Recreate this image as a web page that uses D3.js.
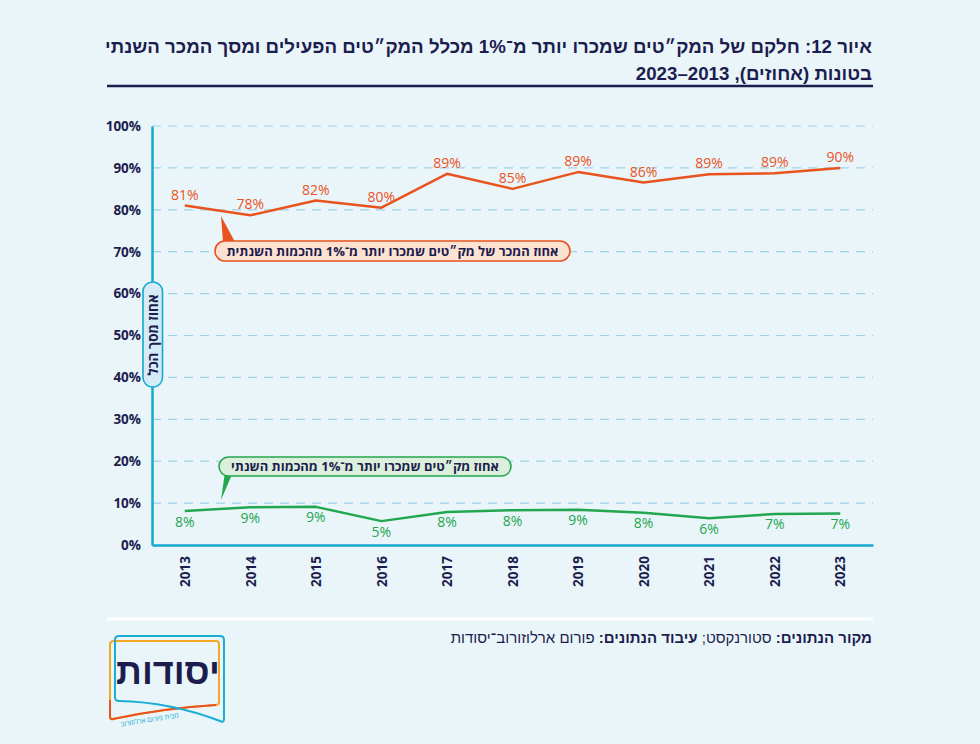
<!DOCTYPE html>
<html lang="he">
<head>
<meta charset="utf-8">
<script src="https://cdn.jsdelivr.net/npm/d3@7"></script>
<style>
html,body{margin:0;padding:0;background:#eaf5fa;}
svg{display:block;}
text{font-family:"Open Sans","Liberation Sans","DejaVu Sans",sans-serif;}
</style>
</head>
<body>
<svg id="chart" width="980" height="744"></svg>
<script>
// ---- data ----
const years = [2013, 2014, 2015, 2016, 2017, 2018, 2019, 2020, 2021, 2022, 2023];
const salesShare = [81.0, 78.7, 82.2, 80.5, 88.6, 85.0, 89.0, 86.5, 88.5, 88.7, 90.0];
const salesLabels = ["81%", "78%", "82%", "80%", "89%", "85%", "89%", "86%", "89%", "89%", "90%"];
const skuShare = [8.1, 9.0, 9.1, 5.7, 7.9, 8.3, 8.4, 7.7, 6.4, 7.4, 7.5];
const skuLabels = ["8%", "9%", "9%", "5%", "8%", "8%", "9%", "8%", "6%", "7%", "7%"];
const yTicks = [0, 10, 20, 30, 40, 50, 60, 70, 80, 90, 100];
const titleLines = [
  "איור 12: חלקם של המק״טים שמכרו יותר מ־1% מכלל המק״טים הפעילים ומסך המכר השנתי",
  "בטונות (אחוזים), 2013–2023"
];
const yAxisTitle = "אחוז מסך הכל";
const salesCallout = "אחוז המכר של מק״טים שמכרו יותר מ־1% מהכמות השנתית";
const skuCallout = "אחוז מק״טים שמכרו יותר מ־1% מהכמות השנתי";

const NAVY = "#1c1d4e", ORANGE = "#e8531e", GREEN = "#22a64e", AXIS = "#14a9cf", GRID = "#9fd2e6";

const svg = d3.select("#chart");
svg.append("rect").attr("width", 980).attr("height", 744).attr("fill", "#eaf5fa");

// ---- title ----
const title = svg.append("g");
titleLines.forEach((t, i) => {
  title.append("text")
    .attr("x", 872).attr("y", 53 + i * 27)
    .attr("direction", "rtl").attr("text-anchor", "start")
    .attr("font-size", 18.7).attr("font-weight", 700).attr("fill", NAVY)
    .style("font-family", "'Liberation Sans Narrow','Liberation Sans','Open Sans',sans-serif")
    .text(t);
});
svg.append("line").attr("x1", 107).attr("x2", 873).attr("y1", 86).attr("y2", 86)
  .attr("stroke", NAVY).attr("stroke-width", 2.5);

// ---- scales ----
const x = d3.scalePoint().domain(years).range([152, 873]).padding(0.5);
const y = d3.scaleLinear().domain([0, 100]).range([545, 126]);

// gridlines
svg.append("g").selectAll("line").data(yTicks.filter(d => d > 0)).join("line")
  .attr("x1", 152).attr("x2", 873)
  .attr("y1", d => y(d)).attr("y2", d => y(d))
  .attr("stroke", GRID).attr("stroke-width", 1.2).attr("stroke-dasharray", "9,7");

// y axis
const yAxis = svg.append("g").attr("transform", "translate(152,0)")
  .call(d3.axisLeft(y).tickValues(yTicks).tickFormat(d => d + "%").tickSize(0).tickPadding(11));
yAxis.select(".domain").attr("stroke", AXIS).attr("stroke-width", 2.5);
yAxis.selectAll("text").attr("font-size", 13.5).attr("font-weight", 700).attr("fill", NAVY)
  .style("font-family", "'Open Sans',sans-serif");

// x axis
const xAxis = svg.append("g").attr("transform", "translate(0,545)")
  .call(d3.axisBottom(x).tickSize(0).tickPadding(0).tickSizeOuter(0));
xAxis.select(".domain").attr("stroke", AXIS).attr("stroke-width", 2.5);
xAxis.selectAll("text")
  .attr("font-size", 13.5).attr("font-weight", 700).attr("fill", NAVY)
  .attr("text-anchor", "end").attr("dy", "0.35em")
  .attr("transform", "translate(0,11) rotate(-90)")
  .attr("x", 0).attr("y", 0)
  .style("font-family", "'Open Sans',sans-serif");

// ---- lines ----
const line = d3.line().x((d, i) => x(years[i])).y(d => y(d));
svg.append("path").datum(salesShare).attr("d", line)
  .attr("fill", "none").attr("stroke", ORANGE).attr("stroke-width", 2.5).attr("stroke-linejoin", "round");
svg.append("path").datum(skuShare).attr("d", line)
  .attr("fill", "none").attr("stroke", GREEN).attr("stroke-width", 2.5).attr("stroke-linejoin", "round");

// data labels
svg.append("g").selectAll("text").data(salesShare).join("text")
  .attr("x", (d, i) => x(years[i])).attr("y", d => y(d) - 6)
  .attr("text-anchor", "middle").attr("font-size", 14).attr("fill", ORANGE)
  .text((d, i) => salesLabels[i]);
svg.append("g").selectAll("text").data(skuShare).join("text")
  .attr("x", (d, i) => x(years[i])).attr("y", d => y(d) + 15.5)
  .attr("text-anchor", "middle").attr("font-size", 14).attr("fill", GREEN)
  .text((d, i) => skuLabels[i]);

// ---- callouts ----
function callout(box, tip, fill, stroke, text) {
  const g = svg.append("g");
  g.append("path")
    .attr("d", `M${box.x + 8},${box.y + 1} L${tip[0]},${tip[1]} L${box.x + 20},${box.y + 1} Z`)
    .attr("fill", stroke);
  g.append("rect").attr("x", box.x).attr("y", box.y).attr("width", box.w).attr("height", box.h)
    .attr("rx", box.h / 2).attr("fill", fill).attr("stroke", stroke).attr("stroke-width", 1.6);
  g.append("text").attr("x", box.x + box.w / 2).attr("y", box.y + box.h / 2 + 4.5)
    .attr("text-anchor", "middle").attr("direction", "rtl")
    .attr("font-size", 13).attr("font-weight", 700).attr("fill", NAVY)
    .text(text);
}
callout({x: 215, y: 241, w: 355, h: 20}, [221, 216], "#fde2d2", ORANGE, salesCallout);
callout({x: 219, y: 457, w: 292, h: 19}, [221, 500], "#dcefdc", GREEN, skuCallout);

// y-axis title box
const yt = svg.append("g");
yt.append("rect").attr("x", 143).attr("y", 282).attr("width", 19.5).attr("height", 105)
  .attr("rx", 9.5).attr("fill", "#d5ebf5").attr("stroke", AXIS).attr("stroke-width", 1.6);
yt.append("text").attr("transform", "translate(157.5,335) rotate(-90)")
  .attr("text-anchor", "middle").attr("direction", "rtl")
  .attr("font-size", 13.5).attr("font-weight", 700).attr("fill", NAVY)
  .text(yAxisTitle);

// ---- footer ----
svg.append("line").attr("x1", 107).attr("x2", 873).attr("y1", 619).attr("y2", 619)
  .attr("stroke", "#ffffff").attr("stroke-width", 3);
const src = svg.append("text").attr("x", 872).attr("y", 643)
  .attr("direction", "rtl").attr("text-anchor", "start")
  .attr("font-size", 15).attr("fill", NAVY)
  .style("font-family", "'Liberation Sans Narrow','Liberation Sans',sans-serif");
src.append("tspan").attr("font-weight", 700).text("מקור הנתונים: ");
src.append("tspan").text("סטורנקסט; ");
src.append("tspan").attr("font-weight", 700).text("עיבוד הנתונים: ");
src.append("tspan").text("פורום ארלוזורוב־יסודות");

// logo
const logo = svg.append("g");
logo.append("path")
  .attr("d", "M110,645 Q110,641 114,641 L216,641 Q219,641 219,645 L219,702 Q219,705 216,705 Q165,708 113,719 Q110,720 110,716 Z")
  .attr("fill", "none").attr("stroke", "#f5a623").attr("stroke-width", 2);
logo.append("path")
  .attr("d", "M110,700 L110,716 Q110,720 113,719 Q165,708 216,705")
  .attr("fill", "none").attr("stroke", ORANGE).attr("stroke-width", 2);
logo.append("path")
  .attr("d", "M115,640 Q115,636 119,636 L220,636 Q224,636 224,640 L224,719 Q224,723 220,721 Q170,702 119,701 Q115,701 115,697 Z")
  .attr("fill", "none").attr("stroke", "#1aaed4").attr("stroke-width", 2);
logo.append("text").attr("x", 168).attr("y", 684).attr("text-anchor", "middle")
  .attr("font-size", 36).attr("font-weight", 700).attr("fill", NAVY)
  .style("font-family", "'Liberation Sans Narrow','Liberation Sans',sans-serif")
  .text("יסודות");
logo.append("text").attr("transform", "translate(150,722) rotate(-9)")
  .attr("text-anchor", "middle").attr("font-size", 7).attr("fill", "#1aaed4")
  .text("מבית פורום ארלוזורוב");
</script>
</body>
</html>
